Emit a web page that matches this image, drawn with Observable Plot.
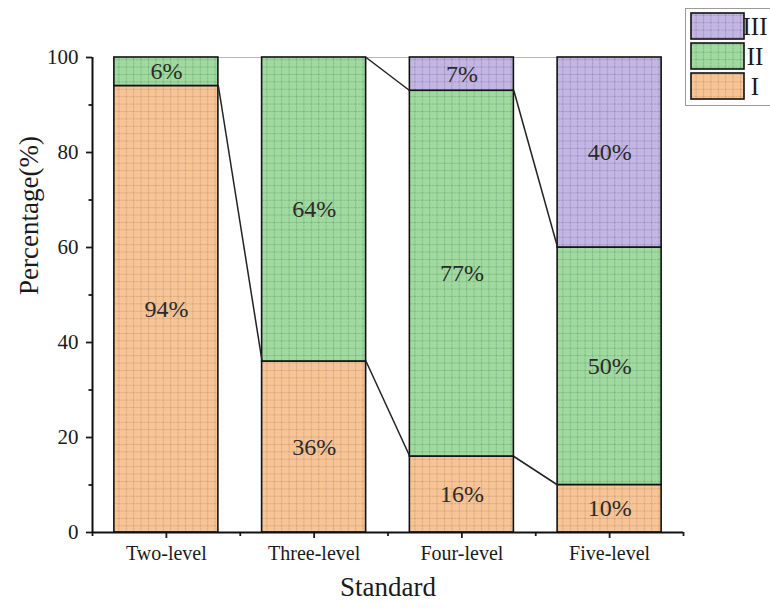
<!DOCTYPE html>
<html>
<head>
<meta charset="utf-8">
<script src="https://cdn.jsdelivr.net/npm/d3@7"></script>
<script src="https://cdn.jsdelivr.net/npm/@observablehq/plot@0.6"></script>
<style>
  html, body { margin: 0; padding: 0; background: #fff; }
  #chart { width: 770px; height: 608px; overflow: hidden; }
</style>
</head>
<body>
<div id="chart"></div>
<script>
// ---- data ----
const categories = ["Two-level", "Three-level", "Four-level", "Five-level"];
const levels = ["I", "II", "III"];
const levelI   = [94, 36, 16, 10];
const levelII  = [6, 64, 77, 50];
const levelIII = [0, 0, 7, 40];
const yTicks = [0, 20, 40, 60, 80, 100];
const yMinorTicks = [10, 30, 50, 70, 90];

const fills = {I: "#F7C496", II: "#A0DAA0", III: "#C3B6E3"};
const lines = {I: "#D9A77F", II: "#7DBB82", III: "#A293C8"};
const patternId = {I: "patI", II: "patII", III: "patIII"};

// ---- derived rows ----
const series = {I: levelI, II: levelII, III: levelIII};
const rows = [];
const tops = {I: [], II: [], III: []};
categories.forEach((c, i) => {
  let acc = 0;
  for (const l of levels) {
    const v = series[l][i];
    tops[l].push(acc + v);
    if (v > 0) rows.push({i, level: l, y1: acc, y2: acc + v, value: v});
    acc += v;
  }
});
const half = 0.352;
const links = [];
for (const l of ["I", "II"]) {
  for (let i = 0; i < categories.length - 1; i++) {
    const a = tops[l][i], b = tops[l][i + 1];
    if (a >= 99.99 && b >= 99.99) continue;
    links.push({x1: i + half, y1: a, x2: i + 1 - half, y2: b});
  }
}

const chart = Plot.plot({
  width: 770,
  height: 608,
  marginLeft: 92,
  marginRight: 87,
  marginTop: 57,
  marginBottom: 76,
  style: {fontFamily: "'Liberation Serif', serif", fontSize: "20px", color: "#1a1a1a", background: "#fff", overflow: "hidden"},
  x: {domain: [-0.5, categories.length - 0.5], axis: null},
  y: {domain: [0, 100], axis: null},
  color: {type: "ordinal", domain: levels, range: levels.map(l => `url(#${patternId[l]})`)},
  marks: [
    Plot.ruleY([100], {x1: -half, x2: categories.length - 1 + half, stroke: "#b5b5b5", strokeWidth: 1}),
    Plot.rect(rows, {x1: d => d.i - half, x2: d => d.i + half, y1: "y1", y2: "y2", fill: "level", stroke: "#111", strokeWidth: 1.6}),
    Plot.link(links, {x1: "x1", y1: "y1", x2: "x2", y2: "y2", stroke: "#222", strokeWidth: 1.5}),
    Plot.text(rows, {x: "i", y: d => (d.y1 + d.y2) / 2, text: d => d.value + "%", fontSize: 24, fill: "#2a2a2a"}),
    Plot.axisY({ticks: yTicks, tickSize: 6, tickPadding: 8, tickFormat: d => d, label: null, fontSize: 21, strokeWidth: 1.8}),
    Plot.axisY({ticks: yMinorTicks, tickSize: 3.5, tickFormat: () => "", label: null, strokeWidth: 1.8}),
    Plot.axisX({ticks: d3.range(categories.length), tickSize: 6, tickPadding: 7, tickFormat: i => categories[i], label: null, fontSize: 20, strokeWidth: 1.8}),
    Plot.axisX({ticks: d3.range(categories.length + 1).map(i => i - 0.5), tickSize: 4, tickFormat: () => "", label: null, strokeWidth: 1.8}),
    Plot.ruleX([-0.5], {y1: 0, y2: 100, stroke: "#111", strokeWidth: 2}),
    Plot.ruleY([0], {x1: -0.5, x2: categories.length - 0.5, stroke: "#111", strokeWidth: 2}),
    Plot.text(["Standard"], {frameAnchor: "bottom", dy: 63, fontSize: 27, fill: "#1a1a1a"}),
    Plot.text(["Percentage(%)"], {frameAnchor: "left", dx: -63, rotate: -90, fontSize: 27, fill: "#1a1a1a"})
  ]
});

// patterns
const svg = d3.select(chart);
const defs = svg.insert("defs", ":first-child");
const cell = 7.4;
for (const l of levels) {
  const p = defs.append("pattern").attr("id", patternId[l]).attr("patternUnits", "userSpaceOnUse")
    .attr("width", cell).attr("height", cell);
  p.append("rect").attr("width", cell).attr("height", cell).attr("fill", fills[l]);
  p.append("path").attr("d", `M0,0.5H${cell}M0.5,0V${cell}`).attr("stroke", lines[l]).attr("stroke-width", 1).attr("stroke-dasharray", "2,1").attr("fill", "none");
}

// legend
const lg = svg.append("g").attr("font-family", "'Liberation Serif', serif");
lg.append("rect").attr("x", 685.5).attr("y", 8.5).attr("width", 120).attr("height", 97)
  .attr("fill", "#fff").attr("stroke", "#9a9a9a").attr("stroke-width", 1);
["III", "II", "I"].forEach((l, k) => {
  const y = 13 + k * 30;
  lg.append("rect").attr("x", 691).attr("y", y).attr("width", 53).attr("height", 26)
    .attr("fill", `url(#${patternId[l]})`).attr("stroke", "#111").attr("stroke-width", 1.6);
  lg.append("text").attr("x", 755).attr("y", y + 13).attr("dy", "0.35em").attr("font-size", 25)
    .attr("fill", "#1a1a1a").text(l);
});

document.getElementById("chart").appendChild(chart);
</script>
</body>
</html>
